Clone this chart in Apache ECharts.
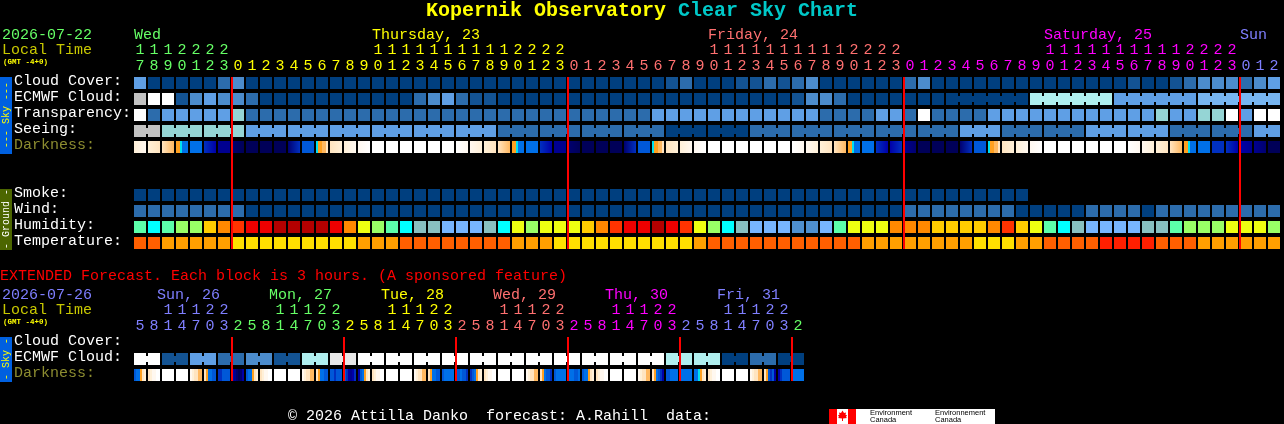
<!DOCTYPE html>
<html>
<head>
<meta charset="utf-8">
<title>Kopernik Observatory Clear Sky Chart</title>
<script src="https://cdn.jsdelivr.net/npm/echarts@6/dist/echarts.min.js"></script>
<style>html,body{margin:0;padding:0;background:#000;overflow:hidden}#c{width:1284px;height:424px}</style>
</head>
<body>
<div id="c"></div>
<script>
// ---------- tick labels ----------
const mainHours = [17,18,19,20,21,22,23,
  0,1,2,3,4,5,6,7,8,9,10,11,12,13,14,15,16,17,18,19,20,21,22,23,
  0,1,2,3,4,5,6,7,8,9,10,11,12,13,14,15,16,17,18,19,20,21,22,23,
  0,1,2,3,4,5,6,7,8,9,10,11,12,13,14,15,16,17,18,19,20,21,22,23,
  0,1,2];
const extHours = [5,8,11,14,17,20,23,
  2,5,8,11,14,17,20,23, 2,5,8,11,14,17,20,23, 2,5,8,11,14,17,20,23,
  2,5,8,11,14,17,20,23, 2,5,8,11,14,17,20,23, 2];
const mainRows = ['Cloud Cover:','ECMWF Cloud:','Transparency:','Seeing:','Darkness:','','','Smoke:','Wind:','Humidity:','Temperature:'];
const extRows = ['Cloud Cover:','ECMWF Cloud:','Darkness:'];
const mainDays = ['Wed','Thursday, 23','Friday, 24','Saturday, 25','Sun'];
const mainDayCols = [0,17,41,65,79];
const extDays = ['Sun, 26','Mon, 27','Tue, 28','Wed, 29','Thu, 30','Fri, 31'];
const mainMidnights = [7,31,55,79];
const extMidnights = [7,15,23,31,39,47];

// ---------- series values (palette levels) ----------
const cloudCover = [4,0,0,0,0,0,2,3,0,0, 0,0,0,0,0,0,0,0,0,0, 0,0,0,0,0,0,0,0,0,0,
  0,0,0,0,0,0,0,0,1,2, 0,0,0,1,1,2,1,2,3,0, 0,0,0,0,0,2,3,0,0,0,
  0,0,0,0,0,0,0,0,0,0, 0,1,0,0,1,2,3,3,3,2,3,4];
const ecmwfCloud = [8,10,10,1,3,4,3,3,2,0, 0,0,0,0,0,0,0,0,0,0, 2,3,4,2,1,1,0,0,0,0,
  0,0,0,0,0,0,0,0,0,0, 0,0,0,0,0,0,0,1,3,3, 2,0,0,0,0,0,0,0,0,0,
  0,0,0,0,7,7,7,7,7,7, 4,4,4,4,4,4,5,5,5,5,5,5];
const transparency = [10,2,4,4,4,4,4,6,2,2, 2,2,2,2,2,2,2,2,2,2, 2,2,2,2,2,2,2,2,2,2,
  2,2,2,2,2,2,2,4,4,4, 4,4,4,4,4,4,4,4,4,2, 2,2,2,4,4,2,10,2,2,2,
  2,4,4,4,4,4,4,4,4,4, 4,4,4,6,4,4,6,6,10,4,10,10];
const seeing = [8,8,6,6,6,6,6,6,4,4, 4,4,4,4,4,4,4,4,4,4, 4,4,4,4,4,4,2,2,2,2,
  2,2,2,2,2,2,2,2,0,0, 0,0,0,0,2,2,2,2,2,2, 2,2,2,2,2,2,2,2,2,4,
  4,4,2,2,2,2,2,2,4,4, 4,4,4,4,2,2,2,2,2,2,4,4];
const darkness = [[2,1],[2,3],[3,4],[5,5,6,7,7,7],[7],[9,10],[11],[12,13],[13],[13],[13],[12,9],[8],[6,5,5,4,4,3],
  [3,2],[2,1],[1,0],[0],[0],[0],[0],[0],[0],
  [0,1],[1,2],[2,3],[3,4],[5,5,6,7,7,7],[7],[9,10],[11],[12,13],[13],[13],[13],[12,9],[8],[6,5,5,4,4,3],
  [3,2],[2,1],[1,0],[0],[0],[0],[0],[0],[0],
  [0,1],[1,2],[2,3],[3,4],[5,5,6,7,7,7],[7],[9,10],[10,9],[11,12],[13],[13],[13],[12,9],[8],[6,5,5,4,4,3],
  [3,2],[2,1],[1,0],[0],[0],[0],[0],[0],[0],
  [0,1],[1,2],[2,3],[3,4],[5,5,6,7,7,7],[7],[9],[9,10],[10,11],[11,12],[13]];
const smoke = [0,0,0,0,0,0,0,0,0,0, 0,0,0,0,0,0,0,0,0,0, 0,0,0,0,0,0,0,0,0,0,
  0,0,0,0,0,0,0,0,0,0, 0,0,0,0,0,0,0,0,0,0, 0,0,0,0,0,0,0,0,0,0, 0,0,0,0];
const wind = [2,2,2,2,2,2,2,2,0,0, 0,0,0,0,0,0,0,0,0,0, 0,0,0,0,0,0,0,0,0,0,
  0,0,0,0,0,0,0,0,0,0, 0,0,0,0,0,0,0,0,0,0, 0,0,0,0,0,2,2,2,2,2,
  2,2,2,0,0,0,0,0,2,2, 2,2,0,2,2,2,2,2,2,2,2,2];
const humidity = [4,3,4,5,5,7,8,9,10,10, 11,11,11,11,10,8,6,5,4,3, 2,2,1,1,1,2,3,6,5,6,
  6,6,7,8,9,10,10,11,10,9, 6,5,3,2,1,1,1,0,0,1, 4,6,6,6,8,8,8,7,7,7,
  7,8,9,7,6,4,3,2,1,1, 1,1,2,2,4,5,5,5,6,6,6,5];
const temperature = [1,1,2,2,2,2,2,3,3,3, 3,3,3,3,3,3,2,2,2,1, 1,1,1,1,1,1,1,2,2,2,
  3,3,3,3,3,3,3,3,3,3, 2,1,1,1,1,1,1,1,1,1, 1,1,2,2,2,2,2,2,2,2,
  3,3,3,2,2,1,1,1,1,0, 0,0,0,1,1,1,2,2,2,2,2,2];
const extEcmwf = [10,10,1,1,4,4,2,2,3,3,1,1,7,7,9,9,10,10,10,10,10,10,10,10,
  10,10,10,10,10,10,10,10,10,10,10,10,10,10,7,7,7,7,0,0,2,2,0,0];
const extDarkness = [[8,7,7,5,3,2],[3,2,1,1,0,0],[0],[0],[1,2,3,3,4,4],[3,5,7,7,8,8],[9,9,8,8,8,8],[10,11,12,13,12,10],
  [8,7,7,5,3,2],[3,2,1,1,0,0],[0],[0],[1,2,3,3,4,4],[3,5,7,7,8,8],[8,8,9,8,8,8],[8,9,10,11,10,9],
  [10,8,7,5,3,2],[3,2,1,1,0,0],[0],[0],[1,2,3,3,4,4],[3,5,7,7,8,8],[8,7,7,7,7,7],[8,8,7,8,8,9],
  [9,8,7,5,3,2],[3,2,1,1,0,0],[0],[0],[1,2,3,3,4,4],[3,5,7,8,8,9],[8,7,7,7,7,7],[7,7,7,8,8,7],
  [8,7,7,5,3,2],[3,2,1,1,0,0],[0],[0],[1,2,3,3,4,4],[3,5,7,8,9,10],[8,8,7,7,7,7],[7],
  [7,7,6,5,3,2],[3,2,1,1,0,0],[0],[0],[1,2,3,3,4,4],[3,5,8,9,8,10],[10,9,8,8,8,8],[7]];

// ---------- palettes ----------
const cloudColors = ['#003f7f','#135393','#2c6cac','#4c8ccc','#5f9fe5','#77b5f0','#95d5d5','#afeeee','#c2c2c2','#e8e8e8','#ffffff'];
const humidityColors = ['#4f90d0','#77b5fe','#88c0c0','#00ffff','#5cffaa','#99ff66','#eeff11','#ffcc00','#ff8800','#ff3300','#ee0000','#b40000'];
const temperatureColors = ['#ff1f00','#ff5f00','#ff9f00','#ffdf00'];
const darknessColors = ['#ffffff','#fff8f0','#fff0d8','#ffe4c0','#ffb860','#ffa020','#00e0f0','#0070e8','#0058d8','#0030c0','#0000a8','#000090','#000070','#000058'];
const dayColors = ['#66ff66','#ffff00','#ff7070','#ff00ff','#7f7fff'];
const TXT = '15px "Liberation Mono", monospace';

// ---------- build cells ----------
const fillOf = stages => {
  const cols = stages.map(s => darknessColors[s]);
  if (cols.length === 1) return cols[0];
  if (cols.length === 2) return new echarts.graphic.LinearGradient(0,0,1,0,[{offset:0,color:cols[0]},{offset:1,color:cols[1]}]);
  const stops = [];
  cols.forEach((c,i) => { stops.push({offset:i/cols.length,color:c},{offset:(i+1)/cols.length,color:c}); });
  return new echarts.graphic.LinearGradient(0,0,1,0,stops);
};
function addRow(list,row,values,palette,group){
  values.forEach((v,col) => {
    const next = values[col+1];
    list.push({value:[col,row], fill: palette[v],
      link: !!group && next === v && group(col)});
  });
}
function addDark(list,row,values){
  values.forEach((st,col) => list.push({value:[col,row], fill: fillOf(st), link:false}));
}
const mainCells = [];
addRow(mainCells,0,cloudCover,cloudColors);
addRow(mainCells,1,ecmwfCloud,cloudColors,c => c>=58 && (c-57)%6!==0);
addRow(mainCells,2,transparency,cloudColors);
addRow(mainCells,3,seeing,cloudColors,c => (c+1)%3!==2);
addDark(mainCells,4,darkness);
addRow(mainCells,7,smoke,cloudColors);
addRow(mainCells,8,wind,cloudColors);
addRow(mainCells,9,humidity,humidityColors);
addRow(mainCells,10,temperature,temperatureColors);
const extCells = [];
addRow(extCells,1,extEcmwf,cloudColors,c => c%2===0);
addDark(extCells,2,extDarkness);

function cellSeries(cells,xi,yi){
  return {type:'custom',xAxisIndex:xi,yAxisIndex:yi,silent:true,clip:false,z:2,
    encode:{x:0,y:1},data:cells,
    renderItem:(params,api)=>{
      const c=api.coord([api.value(0),api.value(1)]);
      const bw=api.size([1,0])[0], bh=api.size([0,1])[1];
      const w=bw-2,h=bh-4,x=c[0]-w/2,y=c[1]-h/2;
      const cell=cells[params.dataIndex];
      const kids=[{type:'rect',shape:{x,y,width:w,height:h},style:{fill:cell.fill}}];
      if(cell.link) kids.push({type:'rect',shape:{x:x+w,y:y+3,width:bw-w,height:h-6},style:{fill:cell.fill}});
      return {type:'group',children:kids};
    }};
}
function lineSeries(cols,xi,yi,firstRow,lastRow){
  return {type:'custom',xAxisIndex:xi,yAxisIndex:yi,silent:true,clip:false,z:5,
    encode:{x:0},data:cols.map(c=>[c,firstRow]),
    renderItem:(params,api)=>{
      const a=api.coord([api.value(0),firstRow]), b=api.coord([api.value(0),lastRow]);
      const bw=api.size([1,0])[0], bh=api.size([0,1])[1];
      return {type:'rect',shape:{x:a[0]-bw/2,y:a[1]-bh/2+2,width:2,height:b[1]-a[1]+bh-4},style:{fill:'#ff0000'}};
    }};
}
function dayIndexes(hours,start){
  let d=start; return hours.map((h,i)=>{ if(i>0&&h<hours[i-1]) d++; return d%dayColors.length; });
}
const mainDayIdx=dayIndexes(mainHours,0), extDayIdx=dayIndexes(extHours,4);
const makeX=(hours,dayIdx,grid,mode)=>({
  type:'category',gridIndex:grid,position:'top',offset:mode==='tens'?16:0,
  data:hours.map(h=>mode==='tens'?(h>=10?String(Math.floor(h/10)):''):String(h%10)),
  boundaryGap:true,axisLine:{show:false},axisTick:{show:false},splitLine:{show:false},
  axisLabel:{show:true,interval:0,margin:1,hideOverlap:false,fontFamily:'Liberation Mono',fontSize:15,
    color:(v,i)=>dayColors[dayIdx[i]]}
});
const makeY=(rows,grid)=>({
  type:'category',gridIndex:grid,inverse:true,data:rows,
  axisLine:{show:false},axisTick:{show:false},splitLine:{show:false},
  axisLabel:{show:true,interval:0,align:'left',margin:119,verticalAlign:'bottom',lineHeight:4,fontFamily:'Liberation Mono',fontSize:15,
    color:v=>v==='Darkness:'?'#8c8c30':'#ffffff'}
});

// ---------- page furniture ----------
const text=(s,x,y,fill,font,extra)=>Object.assign({type:'text',x,y,silent:true,z:10,
  style:{text:s,fill,font:font||TXT,textVerticalAlign:'middle',textAlign:'left'}},extra||{});
const vtext=(s,x,y,fill)=>({type:'text',x,y,rotation:Math.PI/2,silent:true,z:10,
  style:{text:s,fill,font:'10px "Liberation Mono", monospace',textAlign:'center',textVerticalAlign:'middle'}});
const rect=(x,y,w,h,fill)=>({type:'rect',silent:true,z:9,shape:{x,y,width:w,height:h},style:{fill}});
const gfx=[
  text('Kopernik Observatory',426,11,'#ffff00','bold 20px "Liberation Mono", monospace'),
  text('Clear Sky Chart',678,11,'#00c8c8','bold 20px "Liberation Mono", monospace'),
  text('2026-07-22',2,35,'#66ff66'),
  text('Local Time',2,50,'#c8c800'),
  text('(GMT -4+0)',3,62,'#ffff00','bold 7.5px "Liberation Mono", monospace'),
  text('2026-07-26',2,295,'#7f7fff'),
  text('Local Time',2,310,'#c8c800'),
  text('(GMT -4+0)',3,322,'#ffff00','bold 7.5px "Liberation Mono", monospace'),
  text('EXTENDED Forecast. Each block is 3 hours. (A sponsored feature)',0,276,'#ff0000'),
  text('\u00a9 2026 Attilla Danko  forecast: A.Rahill  data:',288,416,'#ffffff'),
  rect(0,77,12,77,'#0060e0'),vtext('--- Sky ---',6,115,'#ffff00'),
  rect(0,189,12,61,'#4c6600'),vtext('- Ground -',6,219,'#ffffff'),
  rect(0,337,12,45,'#0060e0'),vtext('- Sky -',6,359,'#ffff00'),
  rect(829,409,166,15,'#ffffff'),rect(829,409,8,15,'#ff0000'),rect(848,409,8,15,'#ff0000'),
  {type:'polygon',silent:true,z:10,shape:{points:[[842.5,410.5],[844,413],[846,412.5],[845.5,415],[847,415],[846,417],[847,418],[843,418.5],[843,421],[842,421],[842,418.5],[838,418],[839,417],[838,415],[839.5,415],[839,412.5],[841,413]]},style:{fill:'#ff0000'}},
  text('Environment',870,413,'#000000','7.5px "Liberation Sans", sans-serif'),
  text('Canada',870,420,'#000000','7.5px "Liberation Sans", sans-serif'),
  text('Environnement',935,413,'#000000','7.5px "Liberation Sans", sans-serif'),
  text('Canada',935,420,'#000000','7.5px "Liberation Sans", sans-serif')
];
mainDays.forEach((d,i)=>gfx.push(text(d,134+14*mainDayCols[i],35,dayColors[i%5])));
extDays.forEach((d,i)=>gfx.push(text(d,157+112*i,295,dayColors[(i+4)%5])));

const chart=echarts.init(document.getElementById('c'),null,{renderer:'canvas',width:1284,height:424,devicePixelRatio:1});
chart.setOption({
  animation:false,backgroundColor:'#000000',
  grid:[{left:133,top:75,width:1148,height:176},{left:133,top:335,width:672,height:48}],
  xAxis:[makeX(mainHours,mainDayIdx,0,'units'),makeX(mainHours,mainDayIdx,0,'tens'),
         makeX(extHours,extDayIdx,1,'units'),makeX(extHours,extDayIdx,1,'tens')],
  yAxis:[makeY(mainRows,0),makeY(extRows,1)],
  series:[cellSeries(mainCells,0,0),lineSeries(mainMidnights,0,0,0,10),
          cellSeries(extCells,2,1),lineSeries(extMidnights,2,1,0,2)],
  graphic:gfx
});
</script>
</body>
</html>
